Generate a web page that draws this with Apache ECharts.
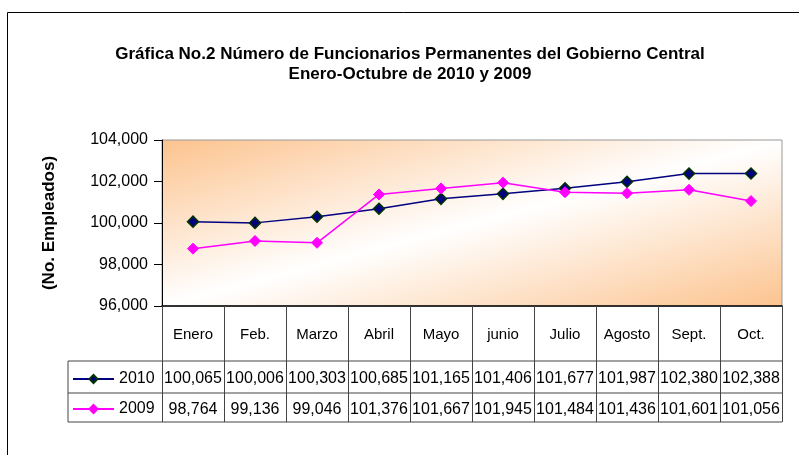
<!DOCTYPE html>
<html>
  <head>
    <title>Funcionarios Permanentes</title>
    <meta charset="utf-8" />
    <script src="https://cdn.jsdelivr.net/npm/echarts@6/dist/echarts.min.js"></script>
    <style>
      body { margin: 0; background: #fff; }
    </style>
  </head>
  <body>
    <div id="main" style="width: 799px;height:455px;"></div>
    <script type="text/javascript">
    // data
    var months = ['Enero', 'Feb.', 'Marzo', 'Abril', 'Mayo', 'junio', 'Julio', 'Agosto', 'Sept.', 'Oct.'];
    var serie2010 = [100065, 100006, 100303, 100685, 101165, 101406, 101677, 101987, 102380, 102388];
    var serie2009 = [98764, 99136, 99046, 101376, 101667, 101945, 101484, 101436, 101601, 101056];
    var yTicks = [96000, 98000, 100000, 102000, 104000];

    var font = 'Liberation Sans, Arial, sans-serif';

    function fmt(v) {
      return String(v).replace(/\B(?=(\d{3})+(?!\d))/g, ',');
    }

    var myChart = echarts.init(document.getElementById('main'));

    // diagonal band: white from bottom-left to top-right, orange in the other corners
    var bg = new echarts.graphic.LinearGradient(0, 0, 0.134, 1.866, [
      { offset: 0, color: '#fcc38e' },
      { offset: 0.5, color: '#ffffff' },
      { offset: 1, color: '#fcc38e' }
    ]);

    var option = {
      animation: false,
      textStyle: { fontFamily: font },
      title: {
        text: 'Gráfica No.2 Número de Funcionarios Permanentes del Gobierno Central\nEnero-Octubre de 2010 y 2009',
        left: 410,
        textAlign: 'center',
        top: 44,
        padding: 0,
        textStyle: { fontFamily: font, fontSize: 17, fontWeight: 'bold', color: '#000', lineHeight: 20 }
      },
      legend: {
        orient: 'vertical',
        left: 72,
        top: 370,
        padding: 0,
        itemWidth: 41,
        itemHeight: 10,
        itemGap: 12,
        textStyle: { fontFamily: font, fontSize: 16, color: '#000', lineHeight: 18 },
        data: ['2010', '2009']
      },
      grid: {
        left: 162,
        right: 17,
        top: 140,
        bottom: 149,
        show: true,
        borderColor: '#999',
        borderWidth: 1,
        backgroundColor: bg
      },
      xAxis: {
        type: 'category',
        data: months,
        boundaryGap: true,
        axisLine: { lineStyle: { color: '#000', width: 1.5 } },
        axisTick: { show: true, interval: 0, length: 116, lineStyle: { color: '#444' } },
        axisLabel: {
          interval: 0,
          margin: 0,
          formatter: function (value, i) {
            return '{h|' + value + '}\n{a|' + fmt(serie2010[i]) + '}\n{b|' + fmt(serie2009[i]) + '}';
          },
          rich: {
            h: { fontFamily: font, fontSize: 15, color: '#000', lineHeight: 57 },
            a: { fontFamily: font, fontSize: 16, color: '#000', lineHeight: 32 },
            b: { fontFamily: font, fontSize: 16, color: '#000', lineHeight: 30 }
          }
        }
      },
      yAxis: {
        type: 'value',
        min: yTicks[0],
        max: yTicks[yTicks.length - 1],
        interval: 2000,
        name: '(No. Empleados)',
        nameLocation: 'middle',
        nameRotate: 90,
        nameGap: 104,
        nameTextStyle: { fontFamily: font, fontSize: 17, fontWeight: 'bold', color: '#000' },
        axisLine: { show: true, lineStyle: { color: '#000', width: 1 } },
        axisTick: { show: true, length: 8, lineStyle: { color: '#000' } },
        splitLine: { show: false },
        axisLabel: {
          margin: 14,
          fontFamily: font,
          fontSize: 16,
          color: '#000',
          formatter: function (v) { return fmt(v); }
        }
      },
      series: [
        {
          name: '2010',
          type: 'line',
          data: serie2010,
          symbol: 'diamond',
          symbolSize: 11,
          lineStyle: { color: '#000080', width: 1.5 },
          itemStyle: { color: '#000080', borderColor: '#003300', borderWidth: 1.5 }
        },
        {
          name: '2009',
          type: 'line',
          data: serie2009,
          symbol: 'diamond',
          symbolSize: 11,
          lineStyle: { color: '#ff00ff', width: 1.5 },
          itemStyle: { color: '#ff00ff', borderColor: '#ff00ff', borderWidth: 1 }
        }
      ]
    };

    myChart.setOption(option);

    // table rules under the plot, placed from the grid's own pixel frame
    var gridRect = myChart.getModel().getComponent('grid', 0).coordinateSystem.getRect();
    var left = 68, right = gridRect.x + gridRect.width;
    var bottom = gridRect.y + gridRect.height;
    var rowYs = [bottom + 55, bottom + 87, bottom + 116];
    var rules = rowYs.map(function (y) {
      return {
        type: 'line',
        shape: { x1: left, y1: y, x2: right, y2: y },
        style: { stroke: '#444', lineWidth: 1 }
      };
    });
    rules.push({
      type: 'line',
      shape: { x1: left, y1: rowYs[0], x2: left, y2: rowYs[2] },
      style: { stroke: '#444', lineWidth: 1 }
    });
    rules.push({
      type: 'rect',
      shape: { x: 7.5, y: 12.5, width: 900, height: 600 },
      style: { fill: null, stroke: '#000', lineWidth: 1 }
    });

    myChart.setOption({ graphic: rules });
    </script>
  </body>
</html>
